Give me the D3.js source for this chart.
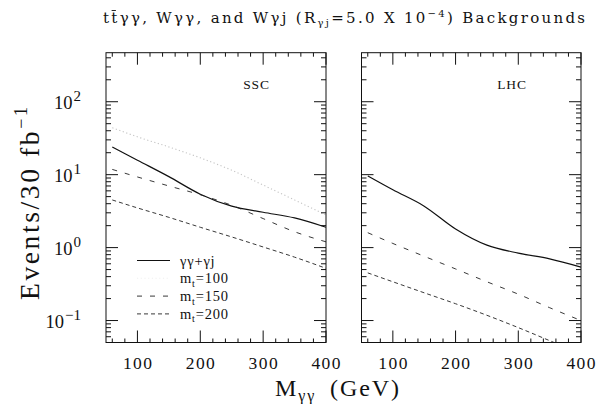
<!DOCTYPE html>
<html>
<head>
<meta charset="utf-8">
<script src="https://cdn.jsdelivr.net/npm/d3@7"></script>
<style>
  html, body { margin: 0; padding: 0; background: #fff; }
  svg { display: block; }
  text { font-family: "Liberation Serif", "DejaVu Serif", serif; fill: #111; }
</style>
</head>
<body>
<svg id="chart" width="597" height="404"></svg>
<script>
// Diphoton invariant mass (GeV) at which the curves are sampled
const mass = [60, 100, 150, 200, 250, 300, 350, 400];

// SSC, events per 30 fb^-1
const sscSum   = [24, 15.8, 9.4, 5.4, 3.7, 3.05, 2.55, 1.9];   // γγ+γj
const sscMt100 = [44, 33, 24, 17, 11.5, 7.2, 4.5, 2.8];
const sscMt150 = [11.8, 9.3, 7.0, 5.3, 3.8, 2.5, 1.65, 1.2];
const sscMt200 = [4.5, 3.5, 2.6, 1.9, 1.4, 1.02, 0.74, 0.52];

// LHC, events per 30 fb^-1
const lhcSum   = [9.6, 6.2, 3.7, 1.8, 1.08, 0.84, 0.7, 0.54];
const lhcMt150 = [1.6, 1.14, 0.76, 0.51, 0.34, 0.23, 0.15, 0.1];
const lhcMt200 = [0.45, 0.34, 0.24, 0.17, 0.118, 0.08, 0.053, 0.035];

const panelNames = ["SSC", "LHC"];
const xTicks = [100, 200, 300, 400];
const yTicks = [0.1, 1, 10, 100];
const legendLabels = ["γγ+γj", "100", "150", "200"];

const svg = d3.select("#chart");
const plotTop = 52.7, plotBottom = 342.5;
const y = d3.scaleLog().domain([0.05, 470]).range([plotBottom, plotTop]);

const styles = [
  { stroke: "#111", width: 1.2, dash: null },
  { stroke: "#c4c4c4", width: 1.1, dash: "1.2,2.5" },
  { stroke: "#222", width: 0.9, dash: "5,8" },
  { stroke: "#222", width: 0.9, dash: "4,3" }
];

const panels = [
  { name: panelNames[0], x0: 106, x1: 326, series: [sscSum, sscMt100, sscMt150, sscMt200], yLabels: true },
  { name: panelNames[1], x0: 361.5, x1: 581, series: [lhcSum, null, lhcMt150, lhcMt200], yLabels: false }
];

// spread a text element's letters so that it spans the given width
function spreadTo(sel, width) {
  const n = sel.node();
  const extra = width - n.getComputedTextLength();
  sel.style("letter-spacing", (extra / (n.getNumberOfChars() - 1)) + "px");
}

panels.forEach((p, pi) => {
  const x = d3.scaleLinear().domain([50, 400]).range([p.x0, p.x1]);
  const g = svg.append("g");

  const clipId = "clip" + pi;
  svg.append("clipPath").attr("id", clipId)
    .append("rect").attr("x", p.x0).attr("y", plotTop).attr("width", p.x1 - p.x0).attr("height", plotBottom - plotTop);

  // curves
  const line = d3.line().x((d, i) => x(mass[i])).y(d => y(d)).curve(d3.curveMonotoneX);
  p.series.forEach((s, si) => {
    if (!s) return;
    const st = styles[si];
    g.append("path").datum(s)
      .attr("clip-path", `url(#${clipId})`)
      .attr("d", line)
      .attr("fill", "none")
      .attr("stroke", st.stroke)
      .attr("stroke-width", st.width)
      .attr("stroke-dasharray", st.dash);
  });

  // frame
  g.append("rect").attr("x", p.x0).attr("y", plotTop).attr("width", p.x1 - p.x0).attr("height", plotBottom - plotTop)
    .attr("fill", "none").attr("stroke", "#111").attr("stroke-width", 1);

  // x ticks on bottom and top, pointing inward
  const xt = d3.range(60, 401, 20);
  xt.forEach(v => {
    const len = v % 100 === 0 ? 12 : 4;
    const px = x(v);
    g.append("line").attr("x1", px).attr("x2", px).attr("y1", plotBottom).attr("y2", plotBottom - len)
      .attr("stroke", "#111").attr("stroke-width", 1);
    g.append("line").attr("x1", px).attr("x2", px).attr("y1", plotTop).attr("y2", plotTop + len)
      .attr("stroke", "#111").attr("stroke-width", 1);
  });
  xTicks.forEach(v => {
    g.append("text").attr("x", x(v) + 0.7).attr("y", 369).attr("text-anchor", "middle")
      .style("font-size", "17.5px").style("letter-spacing", "1.4px").text(v);
  });

  // y ticks on both sides, pointing inward
  const yMinor = [];
  [0.01, 0.1, 1, 10, 100].forEach(d => {
    for (let k = 2; k <= 9; k++) yMinor.push(d * k);
  });
  yMinor.filter(v => v >= 0.05 && v <= 470).forEach(v => {
    const py = y(v);
    g.append("line").attr("x1", p.x0).attr("x2", p.x0 + 5).attr("y1", py).attr("y2", py).attr("stroke", "#111");
    g.append("line").attr("x1", p.x1).attr("x2", p.x1 - 5).attr("y1", py).attr("y2", py).attr("stroke", "#111");
  });
  yTicks.forEach(v => {
    const py = y(v);
    g.append("line").attr("x1", p.x0).attr("x2", p.x0 + 12).attr("y1", py).attr("y2", py).attr("stroke", "#111");
    g.append("line").attr("x1", p.x1).attr("x2", p.x1 - 12).attr("y1", py).attr("y2", py).attr("stroke", "#111");
    if (p.yLabels) {
      const exp = Math.round(Math.log10(v));
      const t = g.append("text").attr("x", 81).attr("y", py + 7).attr("text-anchor", "end")
        .style("font-size", "18.5px");
      t.append("tspan").text("10");
      t.append("tspan").attr("dx", 1).attr("dy", -8).style("font-size", "15px").text(exp < 0 ? "\u2212" + Math.abs(exp) : exp);
    }
  });

  // collider label
  g.append("text").attr("x", pi === 0 ? 256.5 : 512).attr("y", 89).attr("text-anchor", "middle")
    .style("font-size", "13.5px").style("letter-spacing", "0.8px").text(p.name);
});

// legend in the SSC panel
const leg = svg.append("g");
legendLabels.forEach((lab, i) => {
  const ly = 260.5 + i * 17.8;
  const st = styles[i];
  leg.append("line").attr("x1", 137).attr("x2", 170).attr("y1", ly).attr("y2", ly)
    .attr("stroke", i === 1 ? "#f0f0f0" : st.stroke).attr("stroke-width", st.width).attr("stroke-dasharray", st.dash);
  const t = leg.append("text").attr("x", 180).attr("y", ly + 5)
    .style("font-size", "14.5px").style("letter-spacing", "0.8px");
  if (i === 0) {
    t.text(lab);
  } else {
    t.append("tspan").text("m");
    t.append("tspan").attr("dy", 3.5).style("font-size", "10px").text("t");
    t.append("tspan").attr("dy", -3.5).text("=" + lab);
  }
});

// axis titles
const yt = svg.append("text")
  .attr("transform", "translate(39,300) rotate(-90)")
  .style("font-size", "27.5px");
yt.append("tspan").text("Events/30 fb");
yt.append("tspan").attr("dy", -12).style("font-size", "18px").text("\u22121");
spreadTo(yt, 193);

const xtitle = svg.append("text").attr("x", 275).attr("y", 396)
  .style("font-size", "24px");
xtitle.append("tspan").text("M");
xtitle.append("tspan").attr("dy", 5).style("font-size", "16px").text("γγ");
xtitle.append("tspan").attr("dy", -5).text("\u2002(GeV)");
spreadTo(xtitle, 124);

// title, spread to its full width
const title = svg.append("text").attr("x", 103).attr("y", 23)
  .style("font-family", "'DejaVu Serif', serif").style("font-size", "15px");
title.append("tspan").text("tt");
title.append("tspan").text("γγ, Wγγ, and Wγj (R");
title.append("tspan").attr("dy", 3).style("font-size", "10px").text("γj");
title.append("tspan").attr("dy", -3).text("=5.0 X 10");
title.append("tspan").attr("dy", -6).style("font-size", "10px").text("\u22124");
title.append("tspan").attr("dy", 6).text(") Backgrounds");
spreadTo(title, 482);
// bar over the second t
const ext = title.node().getExtentOfChar(1);
svg.append("line").attr("x1", ext.x + 0.3).attr("x2", ext.x + ext.width * 0.55)
  .attr("y1", ext.y + 1.5).attr("y2", ext.y + 1.5).attr("stroke", "#111").attr("stroke-width", 0.9);
</script>
</body>
</html>
